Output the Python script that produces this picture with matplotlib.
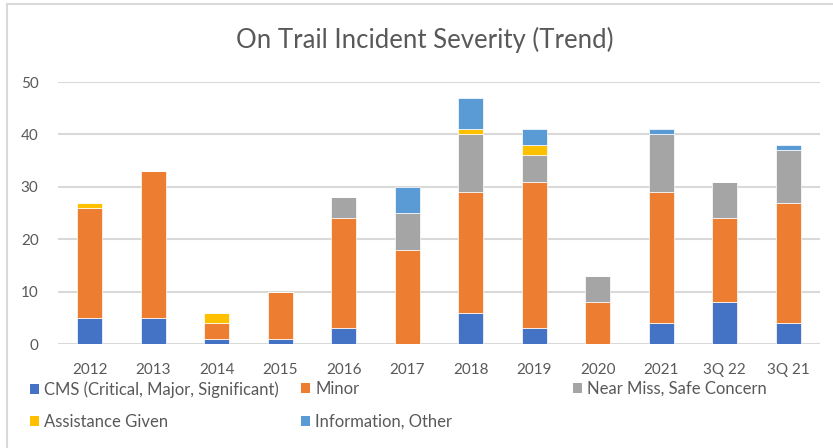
import numpy as np
import matplotlib.pyplot as plt
from matplotlib.patches import Patch
from matplotlib.lines import Line2D

categories = ['2012', '2013', '2014', '2015', '2016', '2017', '2018', '2019',
              '2020', '2021', '3Q 22', '3Q 21']
cms = [5, 5, 1, 1, 3, 0, 6, 3, 0, 4, 8, 4]
minor = [21, 28, 3, 9, 21, 18, 23, 28, 8, 25, 16, 23]
near_miss = [0, 0, 0, 0, 4, 7, 11, 5, 5, 11, 7, 10]
assistance = [1, 0, 2, 0, 0, 0, 1, 2, 0, 0, 0, 0]
information = [0, 0, 0, 0, 0, 5, 6, 3, 0, 1, 0, 1]

series = [
    ('CMS (Critical, Major, Significant)', cms, '#4472C4'),
    ('Minor', minor, '#ED7D31'),
    ('Near Miss, Safe Concern', near_miss, '#A5A5A5'),
    ('Assistance Given', assistance, '#FFC000'),
    ('Information, Other', information, '#5B9BD5'),
]

plt.rcParams['font.family'] = ['Lato', 'DejaVu Sans']
txt = '#595959'

fig = plt.figure(figsize=(8.33, 4.48), dpi=100)
ax = fig.add_axes([58 / 833, 1 - 344 / 448, 762 / 833, 262 / 448])

x = np.arange(len(categories))
bottom = np.zeros(len(categories))
for name, vals, col in series:
    vals = np.array(vals, dtype=float)
    ax.bar(x, vals, width=0.4, bottom=bottom, color=col, label=name,
           edgecolor='white', linewidth=0.5, zorder=3)
    bottom += vals

ax.set_xlim(-0.5, len(categories) - 0.5)
ax.set_ylim(0, 50)
ax.set_yticks(range(0, 51, 10))
ax.set_xticks(x)
ax.set_xticklabels(categories)
ax.tick_params(axis='both', length=0, labelsize=11, labelcolor=txt)
ax.tick_params(axis='x', pad=14)
ax.tick_params(axis='y', pad=14)
ax.grid(axis='y', color='#D9D9D9', linewidth=1.5, zorder=0)
for s in ax.spines.values():
    s.set_visible(False)

fig.text(425 / 833, 1 - 40 / 448, 'On Trail Incident Severity (Trend)',
         ha='center', va='center', fontsize=18.5, color=txt)

# legend laid out in three columns like the original
handles = [Patch(facecolor=c, edgecolor='none') for _, _, c in series]
labels = [n for n, _, _ in series]
cols = [([0, 3], 30), ([1, 4], 301), ([2], 573)]
for idx, xpos in cols:
    leg = fig.legend([handles[i] for i in idx], [labels[i] for i in idx],
                     loc='upper left', bbox_to_anchor=(xpos / 833, 1 - 381 / 448),
                     frameon=False, fontsize=12, handlelength=0.55, handleheight=0.55,
                     handletextpad=0.3, labelspacing=1.0, borderpad=0, borderaxespad=0)
    for t in leg.get_texts():
        t.set_color(txt)

# light border on the left and top, as in the screenshot
fig.add_artist(Line2D([6.5 / 833, 6.5 / 833], [0, 1 - 4.5 / 448], color='#D9D9D9', linewidth=1.5))
fig.add_artist(Line2D([6.5 / 833, 1], [1 - 4.5 / 448, 1 - 4.5 / 448], color='#D9D9D9', linewidth=1.5))

fig.savefig('out.png', dpi=100)
